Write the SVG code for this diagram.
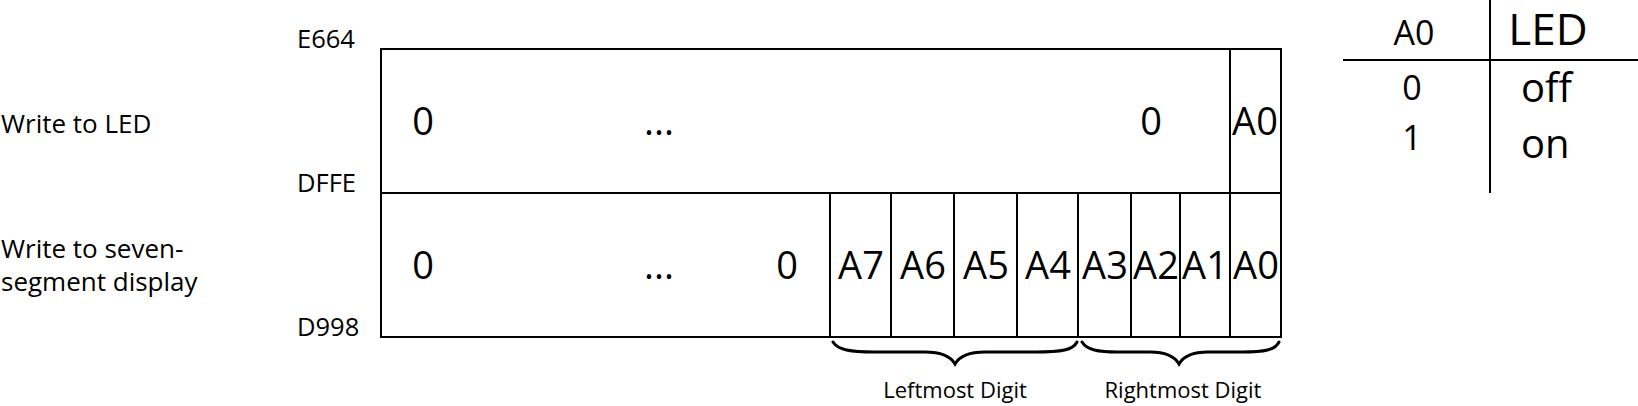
<svg xmlns="http://www.w3.org/2000/svg" width="1638" height="406" viewBox="0 0 1638 406">
<style>
text{font-family:"Open Sans","Noto Sans","Liberation Sans",sans-serif;fill:#000}
.ln{stroke:#000;stroke-width:2;fill:none}
.br{stroke:#000;stroke-width:3;fill:none;stroke-linecap:round}
.cell{font-size:38px;text-anchor:middle}
.addr{font-size:25.5px}
.lbl{font-size:26px}
.sm{font-size:22px;text-anchor:middle}
</style>
<g id="labels">
<text class="lbl" x="1" y="133">Write to LED</text>
<text class="lbl" x="1" y="258">Write to seven-</text>
<text class="lbl" x="1" y="291">segment display</text>
<text class="addr" x="297" y="48">E664</text>
<text class="addr" x="297" y="192">DFFE</text>
<text class="addr" x="297" y="336">D998</text>
</g>
<g id="led-row">
<rect class="ln" x="381" y="49" width="900" height="144"/>
<line class="ln" x1="1230" y1="49" x2="1230" y2="193"/>
<text class="cell" x="423" y="135">0</text>
<text class="cell" x="659" y="135">...</text>
<text class="cell" x="1151" y="135">0</text>
<text class="cell" x="1255" y="135">A0</text>
</g>
<g id="seg-row">
<rect class="ln" x="381" y="193" width="900" height="144"/>
<line class="ln" x1="830" y1="193" x2="830" y2="337"/>
<line class="ln" x1="891" y1="193" x2="891" y2="337"/>
<line class="ln" x1="954" y1="193" x2="954" y2="337"/>
<line class="ln" x1="1017" y1="193" x2="1017" y2="337"/>
<line class="ln" x1="1078" y1="193" x2="1078" y2="337"/>
<line class="ln" x1="1131" y1="193" x2="1131" y2="337"/>
<line class="ln" x1="1180" y1="193" x2="1180" y2="337"/>
<line class="ln" x1="1230" y1="193" x2="1230" y2="337"/>
<text class="cell" x="423" y="279">0</text>
<text class="cell" x="659" y="279">...</text>
<text class="cell" x="787" y="279">0</text>
<text class="cell" x="861" y="279">A7</text>
<text class="cell" x="923" y="279">A6</text>
<text class="cell" x="986" y="279">A5</text>
<text class="cell" x="1048" y="279">A4</text>
<text class="cell" x="1105" y="279">A3</text>
<text class="cell" x="1156" y="279">A2</text>
<text class="cell" x="1205" y="279">A1</text>
<text class="cell" x="1256" y="279">A0</text>
</g>
<g id="braces">
<path class="br" d="M833 342 C838 350 850 352 875 352 L925 352 C942 352 951 357 955 364 C959 357 968 352 985 352 L1035 352 C1062 352 1073 350 1077 342"/>
<path class="br" d="M1082 342 C1087 350 1098 352 1118 352 L1150 352 C1166 352 1175 357 1179 364 C1183 357 1192 352 1208 352 L1242 352 C1265 352 1275 350 1279 342"/>
<text class="sm" x="955" y="398">Leftmost Digit</text>
<text class="sm" x="1183" y="398">Rightmost Digit</text>
</g>
<g id="table">
<line class="ln" x1="1490" y1="0" x2="1490" y2="193"/>
<line class="ln" x1="1343" y1="60" x2="1638" y2="60"/>
<text x="1414" y="45" style="font-size:34px;text-anchor:middle">A0</text>
<text x="1548" y="45" style="font-size:44px;text-anchor:middle">LED</text>
<text x="1412" y="100" style="font-size:34px;text-anchor:middle">0</text>
<text x="1412" y="150" style="font-size:34px;text-anchor:middle">1</text>
<text x="1521" y="102" style="font-size:40px">off</text>
<text x="1521" y="158" style="font-size:40px">on</text>
</g>
</svg>
